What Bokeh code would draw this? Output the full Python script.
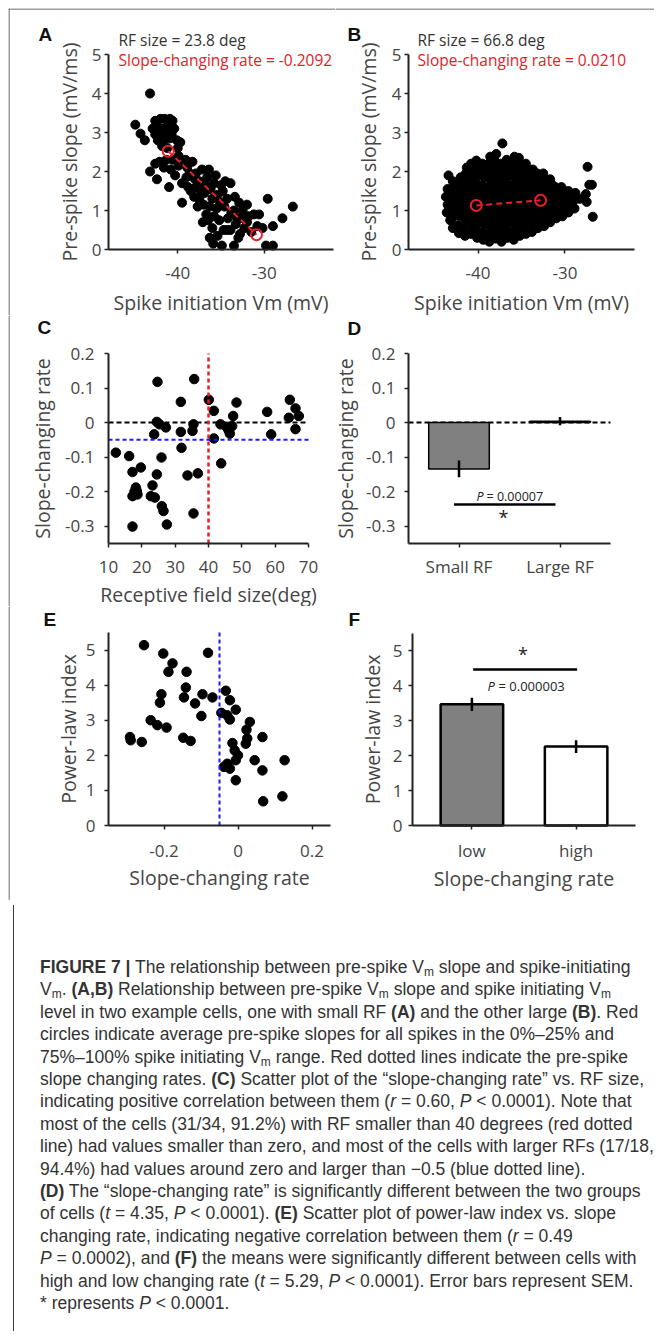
from bokeh.plotting import figure
from bokeh.models import Label, FixedTicker, PrintfTickFormatter, Div, Span
from bokeh.layouts import column, row
from bokeh.embed import file_html
from bokeh.resources import INLINE

# ---------------- data ----------------
# Panel A: spike initiation Vm (mV) vs pre-spike slope (mV/ms)
a_vm = [-43.2, -44.9, -44.3, -43.8,
        -42.6, -42.0, -41.5, -40.9, -40.6, -42.9, -42.3, -41.7, -41.1, -40.4,
        -42.6, -42.0, -41.3, -40.7, -42.3, -41.6, -40.9, -40.1, -41.8, -41.2, -40.0, -39.7,
        -43.2, -42.4, -42.6, -41.6, -41.0, -40.6, -39.9, -39.1, -38.9, -40.3, -39.5, -40.8, -39.9, -41.3, -42.1,
        -38.6, -38.0, -37.5, -36.4, -36.6, -33.9,
        -39.5, -37.9, -37.5, -36.7, -37.1, -38.5, -38.1, -37.3, -36.9, -36.2,
        -35.8, -36.0, -35.4, -34.8, -35.1, -34.3, -35.5, -34.6, -33.5, -33.1,
        -33.9, -34.7, -36.3, -37.7, -36.5, -35.8, -35.2, -34.2, -33.8, -32.5,
        -32.0, -31.2, -32.8, -32.3, -33.3,
        -35.9, -34.9, -33.5, -36.3, -35.4, -34.3, -32.8, -31.8, -32.0, -30.6,
        -29.6, -27.9, -26.7, -30.2, -29.0, -29.8, -29.0, -30.8, -31.5,
        -39.0, -38.3, -37.2, -36.8, -35.6, -35.0, -34.5, -33.4, -32.9, -37.9, -38.8, -37.0, -36.0, -33.0]
a_slope = [4.0, 3.2, 2.97, 2.8,
           3.3, 3.35, 3.35, 3.35, 3.3, 3.1, 3.15, 3.1, 3.2, 3.1,
           2.95, 2.95, 3.0, 2.95, 2.8, 2.8, 2.85, 2.8, 2.65, 2.6, 2.6, 2.75,
           2.0, 1.8, 2.2, 2.1, 1.6, 2.3, 2.4, 2.3, 2.1, 1.9, 1.7, 2.05, 2.15, 2.3, 2.25,
           1.95, 1.8, 1.75, 2.05, 1.85, 1.7,
           1.2, 1.6, 1.3, 0.9, 0.7, 1.5, 1.35, 1.5, 1.45, 1.55,
           1.7, 1.3, 1.4, 1.5, 1.2, 1.3, 1.05, 1.1, 1.0, 0.8,
           0.5, 0.5, 1.1, 1.1, 0.75, 0.85, 0.75, 0.8, 0.95, 1.0,
           0.7, 0.9, 0.8, 0.55, 0.65,
           0.15, 0.1, 0.1, 0.3, 0.35, 0.5, 0.4, 0.85, 1.15, 0.9,
           1.3, 0.8, 1.1, 0.55, 0.6, 0.1, 0.1, 0.6, 0.45,
           1.85, 2.25, 2.05, 1.65, 1.9, 1.65, 1.75, 1.35, 1.2, 1.95, 1.6, 1.15, 0.55, 0.3]
a_mean_vm = [-41.1, -30.9]
a_mean_slope = [2.52, 0.38]

# Panel B
b_vm = [-43.6, -43.5, -43.7, -43.5, -43.4, -43.2,
        -42.9, -43.0, -42.8, -42.9, -43.0, -42.8, -42.9,
        -42.2, -42.3, -42.1, -42.2, -42.3, -42.1, -42.2, -42.0,
        -41.5, -41.6, -41.4, -41.5, -41.6, -41.4, -41.5, -41.6, -41.4, -41.3,
        -40.8, -40.9, -40.7, -40.8, -40.9, -40.7, -40.8, -40.9, -40.7, -40.8,
        -40.1, -40.2, -40.0, -40.1, -40.2, -40.0, -40.1, -40.2, -40.0, -40.1, -40.2,
        -39.4, -39.5, -39.3, -39.4, -39.5, -39.3, -39.4, -39.5, -39.3, -39.4, -39.5,
        -38.7, -38.8, -38.6, -38.7, -38.8, -38.6, -38.7, -38.8, -38.6, -38.7, -38.8, -38.6,
        -38.0, -38.1, -37.9, -38.0, -38.1, -37.9, -38.0, -38.1, -37.9, -38.0, -38.1, -37.9,
        -37.3, -37.4, -37.2, -37.3, -37.4, -37.2, -37.3, -37.4, -37.2, -37.3, -37.4, -37.2,
        -36.6, -36.7, -36.5, -36.6, -36.7, -36.5, -36.6, -36.7, -36.5, -36.6, -36.7,
        -35.9, -36.0, -35.8, -35.9, -36.0, -35.8, -35.9, -36.0, -35.8, -35.9, -36.0, -35.8,
        -35.2, -35.3, -35.1, -35.2, -35.3, -35.1, -35.2, -35.3, -35.1, -35.2, -35.3,
        -34.5, -34.6, -34.4, -34.5, -34.6, -34.4, -34.5, -34.6, -34.4, -34.5,
        -33.8, -33.9, -33.7, -33.8, -33.9, -33.7, -33.8, -33.9, -33.7,
        -33.1, -33.2, -33.0, -33.1, -33.2, -33.0, -33.1, -33.2,
        -32.4, -32.5, -32.3, -32.4, -32.5, -32.3, -32.4, -32.5,
        -31.7, -31.8, -31.6, -31.7, -31.8, -31.6, -31.7,
        -31.0, -31.1, -30.9, -31.0, -31.1,
        -30.3, -30.4, -30.2, -30.3, -30.4,
        -29.6, -29.7, -29.5, -29.6,
        -28.9, -29.0, -28.8,
        -27.4, -27.2, -26.9, -27.6, -27.5, -26.8, -28.3]
b_slope = [0.95, 1.15, 1.35, 1.55, 1.9, 0.75,
           0.55, 0.8, 1.0, 1.2, 1.4, 1.6, 1.75,
           0.42, 0.62, 0.85, 1.05, 1.25, 1.45, 1.65, 1.85,
           0.35, 0.55, 0.75, 0.95, 1.15, 1.35, 1.55, 1.75, 1.95, 2.1,
           0.4, 0.6, 0.8, 1.0, 1.2, 1.4, 1.6, 1.8, 2.0, 2.2,
           0.3, 0.5, 0.7, 0.9, 1.1, 1.3, 1.5, 1.7, 1.9, 2.1, 2.28,
           0.25, 0.45, 0.65, 0.85, 1.05, 1.25, 1.45, 1.65, 1.85, 2.05, 2.2,
           0.2, 0.4, 0.6, 0.8, 1.0, 1.2, 1.4, 1.6, 1.8, 2.0, 2.2, 2.38,
           0.28, 0.48, 0.68, 0.88, 1.08, 1.28, 1.48, 1.68, 1.88, 2.08, 2.28, 2.45,
           0.2, 0.4, 0.6, 0.8, 1.0, 1.2, 1.4, 1.6, 1.8, 2.0, 2.2, 2.72,
           0.3, 0.5, 0.7, 0.9, 1.1, 1.3, 1.5, 1.7, 1.9, 2.1, 2.3,
           0.25, 0.45, 0.65, 0.85, 1.05, 1.25, 1.45, 1.65, 1.85, 2.05, 2.25, 2.38,
           0.35, 0.55, 0.75, 0.95, 1.15, 1.35, 1.55, 1.75, 1.95, 2.15, 2.35,
           0.4, 0.6, 0.8, 1.0, 1.2, 1.4, 1.6, 1.8, 2.0, 2.2,
           0.45, 0.65, 0.85, 1.05, 1.25, 1.45, 1.65, 1.85, 2.05,
           0.55, 0.75, 0.95, 1.15, 1.35, 1.55, 1.75, 1.95,
           0.6, 0.8, 1.0, 1.2, 1.4, 1.6, 1.8, 1.95,
           0.7, 0.9, 1.1, 1.3, 1.5, 1.7, 1.8,
           0.8, 1.0, 1.2, 1.4, 1.6,
           0.85, 1.05, 1.25, 1.45, 1.6,
           0.95, 1.15, 1.35, 1.5,
           1.05, 1.25, 1.45,
           2.12, 1.66, 1.66, 1.42, 1.22, 0.84, 1.3]
b_mean_vm = [-40.2, -32.8]
b_mean_slope = [1.13, 1.26]

# Panel C: receptive field size vs slope-changing rate
c_rf = [12.2, 16.2, 17.2, 19.7, 17.2, 18.5, 18.2, 18.7, 17.2,
        23.2, 22.7, 23.9, 24.5, 26.0, 26.5, 27.5, 25.9, 24.7, 24.5,
        23.7, 27.2, 31.7, 31.9, 31.7, 35.7, 35.5, 35.2, 33.7, 36.8,
        35.5, 40.1, 41.6, 41.6, 43.6, 45.4, 46.4, 47.1, 47.4, 48.4,
        43.8, 57.6, 58.8, 64.4, 66.1, 67.1, 64.1, 66.1, 17.8, 25.3, 46.0]
c_rate = [-0.087, -0.097, -0.143, -0.130, -0.213, -0.198, -0.188, -0.208, -0.301,
          -0.182, -0.213, -0.217, -0.150, -0.242, -0.256, -0.295, -0.101, 0.118, 0.002,
          -0.034, -0.014, -0.027, -0.073, 0.060, 0.126, -0.005, -0.024, -0.153, -0.147,
          -0.263, 0.066, 0.034, -0.046, -0.005, -0.012, -0.032, -0.010, 0.019, 0.058,
          -0.118, 0.031, -0.034, 0.066, 0.041, 0.019, 0.014, -0.019, -0.200, -0.005, -0.022]
rf_threshold = 40
rate_threshold = -0.05

# Panel D
d_groups = ["Small RF", "Large RF"]
d_mean = [-0.134, 0.004]
d_sem = [0.024, 0.012]
d_fill = ["#808080", "#ffffff"]
d_p_text = "= 0.00007"

# Panel E
e_rate = [-0.254, -0.202, -0.177, -0.188, -0.139, -0.081, -0.141, -0.146, -0.207, -0.211,
          -0.236, -0.218, -0.193, -0.292, -0.290, -0.260, -0.148, -0.128, -0.116, -0.096,
          -0.099, -0.069, -0.033, -0.022, -0.045, -0.029, -0.006, -0.022, 0.032, 0.023,
          -0.015, -0.009, 0.025, 0.021, 0.066, 0.000, -0.006, -0.029, -0.038, -0.022,
          0.045, 0.066, 0.126, -0.006, 0.068, 0.120]
e_index = [5.14, 4.90, 4.62, 4.38, 4.38, 4.92, 3.93, 3.65, 3.74, 3.50,
           3.00, 2.86, 2.79, 2.52, 2.43, 2.38, 2.50, 2.41, 3.48, 3.74,
           3.12, 3.65, 3.84, 3.57, 3.21, 3.14, 3.30, 3.02, 2.95, 2.73,
           2.35, 2.14, 2.48, 2.33, 2.52, 2.00, 1.86, 1.76, 1.67, 1.62,
           1.86, 1.57, 1.86, 1.29, 0.69, 0.83]

# Panel F
f_groups = ["low", "high"]
f_mean = [3.47, 2.26]
f_sem = [0.19, 0.18]
f_fill = ["#808080", "#ffffff"]
f_p_text = "= 0.000003"

# significance brackets (data units)
d_sig = dict(x0=0.95, x1=1.955, y=-0.237, star_x=1.44, star_y=-0.272, p_x=1.51, p_y=-0.213)
f_sig = dict(x0=1.012, x1=2.01, y=4.47, star_x=1.49, star_y=4.90, p_x=1.524, p_y=4.0)

assert len(a_vm) == len(a_slope) and len(b_vm) == len(b_slope)
assert len(c_rf) == len(c_rate) and len(e_rate) == len(e_index)

# ---------------- style ----------------
FONT = "Open Sans"
TXT = "#454545"
AX = "#222222"
RED = "#e4202a"
BLUE = "#1a1aff"
FRAME = "#3c3c3c"
TICK_PX = "17px"
LABEL_PX = "19.5px"
NOTE_PX = "15.5px"


def panel(W, H, xlim, ylim, box, xticks, yticks, xlab, ylab,
          xstand, ystand, xlstand, ylstand):
    """Figure whose frame fills the canvas; axes sit at fixed data locations so
    that every annotation around the axes stays inside the (unclipped) frame."""
    l, t, r, b = box
    dx = (xlim[1] - xlim[0]) / (r - l)
    dy = (ylim[1] - ylim[0]) / (b - t)
    xr = (xlim[0] - l * dx, xlim[1] + (W - r) * dx)
    yr = (ylim[0] - (H - b) * dy, ylim[1] + t * dy)
    p = figure(width=W, height=H, x_range=xr, y_range=yr,
               min_border=0, min_border_left=0, min_border_right=0,
               min_border_top=0, min_border_bottom=0,
               output_backend="svg", toolbar_location=None, tools="")
    p.outline_line_color = None
    p.xgrid.visible = False
    p.ygrid.visible = False
    p.background_fill_color = "white"
    p.border_fill_color = "white"
    for ax in (p.xaxis[0], p.yaxis[0]):
        ax.axis_line_width = 2
        ax.axis_line_color = AX
        ax.major_tick_line_color = AX
        ax.major_tick_line_width = 1.5
        ax.major_tick_out = 4
        ax.major_tick_in = 0
        ax.minor_tick_line_color = None
        ax.major_label_text_font = FONT
        ax.major_label_text_font_size = TICK_PX
        ax.major_label_text_color = TXT
        ax.axis_label_text_font = FONT
        ax.axis_label_text_font_size = LABEL_PX
        ax.axis_label_text_font_style = "normal"
        ax.axis_label_text_color = TXT
        ax.formatter = PrintfTickFormatter(format="%g")
    xa, ya = p.xaxis[0], p.yaxis[0]
    xa.ticker = FixedTicker(ticks=xticks)
    ya.ticker = FixedTicker(ticks=yticks)
    xa.bounds = tuple(xlim)
    ya.bounds = tuple(ylim)
    xa.fixed_location = ylim[0]
    ya.fixed_location = xlim[0]
    xa.axis_label = xlab
    ya.axis_label = ylab
    xa.major_label_standoff = xstand
    ya.major_label_standoff = ystand
    xa.axis_label_standoff = xlstand
    ya.axis_label_standoff = ylstand

    def fx(px):
        return xr[0] + px * dx

    def fy(py):
        return yr[1] - py * dy
    return p, fx, fy


def add_label(p, x, y, text, size=NOTE_PX, color=TXT, font=FONT, style="normal",
              align="left", xo=0):
    p.add_layout(Label(x=x, y=y, text=text, text_font=font, text_font_size=size,
                       text_color=color, text_font_style=style, text_align=align,
                       text_baseline="middle", x_offset=xo))


def letter(p, x, y, t):
    add_label(p, x, y, t, size="19px", color="#111111", font="Liberation Sans", style="bold")


def left_border(p, fx):
    p.add_layout(Span(location=fx(0.5), dimension="height", line_color=FRAME, line_width=1))


def top_border(p, fy):
    p.add_layout(Span(location=fy(0.5), dimension="width", line_color=FRAME, line_width=1))


# ---------------- Panel A ----------------
pA, ax_, ay_ = panel(327, 307, (-48, -22), (0, 5), (100, 46, 325, 241),
                     [-40, -30], [0, 1, 2, 3, 4, 5],
                     "Spike initiation Vm (mV)", "Pre-spike slope (mV/ms)",
                     xstand=13, ystand=3, xlstand=7, ylstand=6)
pA.scatter(a_vm, a_slope, size=9, color="black")
pA.line(a_mean_vm, a_mean_slope, line_color=RED, line_width=2, line_dash="6 4")
pA.scatter(a_mean_vm, a_mean_slope, size=11, fill_color=None, line_color=RED, line_width=2)
letter(pA, ax_(30), ay_(26), "A")
add_label(pA, ax_(110), ay_(31), "RF size = 23.8 deg", color="#333333")
add_label(pA, ax_(110), ay_(51), "Slope-changing rate = -0.2092", color=RED)
left_border(pA, ax_)
top_border(pA, ay_)

# ---------------- Panel B ----------------
pB, bx_, by_ = panel(319, 307, (-48, -22), (0, 5), (73, 46, 299, 241),
                     [-40, -30], [0, 1, 2, 3, 4, 5],
                     "Spike initiation Vm (mV)", "Pre-spike slope (mV/ms)",
                     xstand=13, ystand=3, xlstand=7, ylstand=7)
pB.scatter(b_vm, b_slope, size=9, color="black")
pB.line(b_mean_vm, b_mean_slope, line_color=RED, line_width=2, line_dash="6 4")
pB.scatter(b_mean_vm, b_mean_slope, size=11, fill_color=None, line_color=RED, line_width=2)
letter(pB, bx_(12), by_(26), "B")
add_label(pB, bx_(82), by_(31), "RF size = 66.8 deg", color="#333333")
add_label(pB, bx_(82), by_(51), "Slope-changing rate = 0.0210", color=RED)
top_border(pB, by_)

# ---------------- Panel C ----------------
c_xlim, c_ylim = (10, 70), (-0.35, 0.2)
pC, cx_, cy_ = panel(322, 291, c_xlim, c_ylim, (100, 38, 300, 228),
                     [10, 20, 30, 40, 50, 60, 70], [-0.3, -0.2, -0.1, 0, 0.1, 0.2],
                     "Receptive field size(deg)", "Slope-changing rate",
                     xstand=13, ystand=10, xlstand=5, ylstand=6)
pC.scatter(c_rf, c_rate, size=9.5, color="black")
pC.line(list(c_xlim), [0, 0], line_color="black", line_width=2, line_dash="5 3")
pC.line(list(c_xlim), [rate_threshold] * 2, line_color=BLUE, line_width=2, line_dash="4 3")
pC.line([rf_threshold] * 2, list(c_ylim), line_color=RED, line_width=2.5, line_dash="4 3")
letter(pC, cx_(29), cy_(12), "C")
left_border(pC, cx_)

# ---------------- Panel D ----------------
d_x = [i + 1 for i in range(len(d_groups))]
d_xlim = (0.5, 2.5)
pD, dx_, dy_ = panel(318, 291, d_xlim, c_ylim, (78, 38, 280, 228),
                     d_x, [-0.3, -0.2, -0.1, 0, 0.1, 0.2],
                     "", "Slope-changing rate",
                     xstand=7, ystand=9, xlstand=5, ylstand=4)
pD.xaxis[0].major_label_overrides = {x: g for x, g in zip(d_x, d_groups)}
pD.line(list(d_xlim), [0, 0], line_color="black", line_width=2, line_dash="5 3")
pD.vbar(x=d_x, width=0.6, bottom=0, top=d_mean, fill_color=d_fill, line_color="black", line_width=1.5)
pD.segment(x0=d_x, y0=[m - s for m, s in zip(d_mean, d_sem)], x1=d_x,
           y1=[m + s for m, s in zip(d_mean, d_sem)], line_color="black", line_width=2.5)
pD.segment(x0=[d_sig["x0"]], y0=[d_sig["y"]], x1=[d_sig["x1"]], y1=[d_sig["y"]], line_color="black", line_width=2.5)
add_label(pD, d_sig["p_x"], d_sig["p_y"], "P", size="12.5px", style="italic", color="#222222", xo=-34)
add_label(pD, d_sig["p_x"], d_sig["p_y"], d_p_text, size="12.5px", color="#222222", xo=-24)
add_label(pD, d_sig["star_x"], d_sig["star_y"], "*", size="18px", color="#222222", align="center")
letter(pD, dx_(17), dy_(13), "D")

# ---------------- Panel E ----------------
e_xlim, e_ylim = (-0.35, 0.25), (0, 5.5)
pE, ex_, ey_ = panel(327, 294, e_xlim, e_ylim, (100, 26, 322, 219),
                     [-0.2, 0, 0.2], [0, 1, 2, 3, 4, 5],
                     "Slope-changing rate", "Power-law index",
                     xstand=15, ystand=9, xlstand=4, ylstand=1)
pE.scatter(e_rate, e_index, size=9.5, color="black")
pE.line([rate_threshold] * 2, list(e_ylim), line_color=BLUE, line_width=2, line_dash="4 3")
letter(pE, ex_(35), ey_(12.5), "E")
left_border(pE, ex_)

# ---------------- Panel F ----------------
f_x = [i + 1 for i in range(len(f_groups))]
pF, fx_, fy_ = panel(313, 294, (0.43, 2.57), (0, 5.5), (77, 27, 300, 219),
                     f_x, [0, 1, 2, 3, 4, 5],
                     "Slope-changing rate", "Power-law index",
                     xstand=9, ystand=6, xlstand=0, ylstand=4)
pF.xaxis[0].major_label_overrides = {x: g for x, g in zip(f_x, f_groups)}
pF.vbar(x=f_x, width=0.6, bottom=0, top=f_mean, fill_color=f_fill, line_color="black", line_width=2.5)
pF.segment(x0=f_x, y0=[m - s for m, s in zip(f_mean, f_sem)], x1=f_x,
           y1=[m + s for m, s in zip(f_mean, f_sem)], line_color="black", line_width=2.5)
pF.segment(x0=[f_sig["x0"]], y0=[f_sig["y"]], x1=[f_sig["x1"]], y1=[f_sig["y"]], line_color="black", line_width=2.5)
add_label(pF, f_sig["p_x"], f_sig["p_y"], "P", size="13px", style="italic", color="#222222", xo=-39)
add_label(pF, f_sig["p_x"], f_sig["p_y"], f_p_text, size="13px", color="#222222", xo=-28)
add_label(pF, f_sig["star_x"], f_sig["star_y"], "*", size="18px", color="#222222", align="center")
letter(pF, fx_(13), fy_(12.5), "F")

# ---------------- Caption ----------------
SUB = '<span style="font-size:12px;position:relative;top:3px;line-height:0;">m</span>'
cap_lines = [
    '<b>FIGURE 7 |</b> The relationship between pre-spike V' + SUB + ' slope and spike-initiating',
    'V' + SUB + '. <b>(A,B)</b> Relationship between pre-spike V' + SUB + ' slope and spike initiating V' + SUB,
    'level in two example cells, one with small RF <b>(A)</b> and the other large <b>(B)</b>. Red',
    'circles indicate average pre-spike slopes for all spikes in the 0%&ndash;25% and',
    '75%&ndash;100% spike initiating V' + SUB + ' range. Red dotted lines indicate the pre-spike',
    'slope changing rates. <b>(C)</b> Scatter plot of the &ldquo;slope-changing rate&rdquo; vs. RF size,',
    'indicating positive correlation between them (<i>r</i> = 0.60, <i>P</i> &lt; 0.0001). Note that',
    'most of the cells (31/34, 91.2%) with RF smaller than 40 degrees (red dotted',
    'line) had values smaller than zero, and most of the cells with larger RFs (17/18,',
    '94.4%) had values around zero and larger than &minus;0.5 (blue dotted line).',
    '<b>(D)</b> The &ldquo;slope-changing rate&rdquo; is significantly different between the two groups',
    'of cells (<i>t</i> = 4.35, <i>P</i> &lt; 0.0001). <b>(E)</b> Scatter plot of power-law index vs. slope',
    'changing rate, indicating negative correlation between them (<i>r</i> = 0.49',
    '<i>P</i> = 0.0002), and <b>(F)</b> the means were significantly different between cells with',
    'high and low changing rate (<i>t</i> = 5.29, <i>P</i> &lt; 0.0001). Error bars represent SEM.',
    '* represents <i>P</i> &lt; 0.0001.',
]
cap_html = ('<div style="box-sizing:border-box;height:426px;border-left:1px solid ' + FRAME + ';'
            'padding-top:51px;padding-left:26px;font-family:\'Liberation Sans\',sans-serif;'
            'font-size:17.5px;line-height:22.4px;color:#333333;white-space:nowrap;">'
            + '<br>'.join(cap_lines) + '</div>')
cap = Div(text=cap_html, width=640, height=426)

layout = column(row(pA, pB), row(pC, pD), row(pE, pF), cap, margin=(8, 0, 0, 8))

open("out.html", "w").write(file_html(layout, INLINE))
